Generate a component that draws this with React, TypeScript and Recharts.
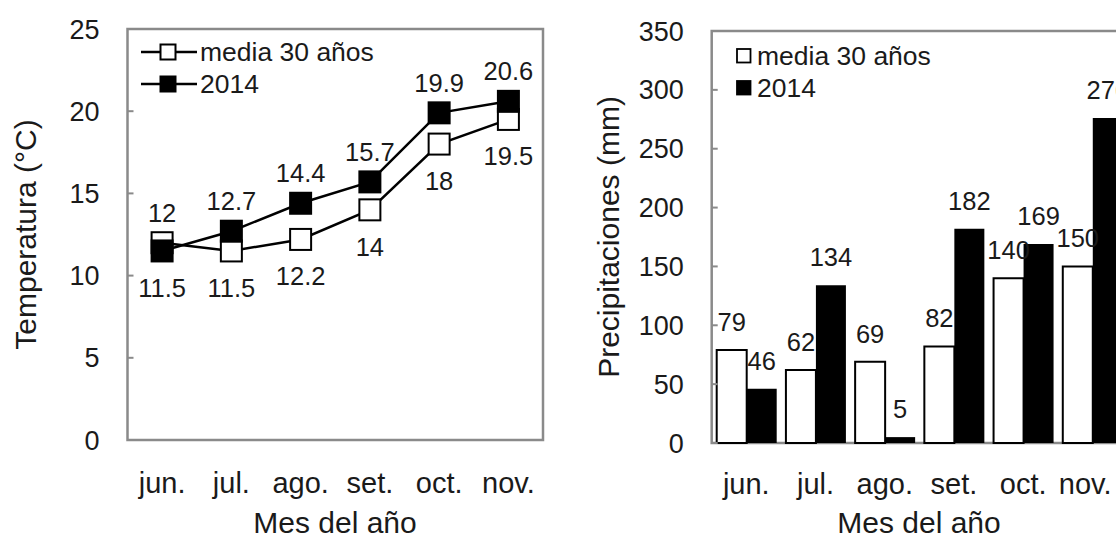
import React from 'react';
import {
  LineChart,
  BarChart,
  Line,
  Bar,
  XAxis,
  YAxis,
  ReferenceArea,
  LabelList,
  Legend,
} from 'recharts';

// ---- data -------------------------------------------------------------
const months = ['jun.', 'jul.', 'ago.', 'set.', 'oct.', 'nov.'];
const seriesNames = ['media 30 años', '2014'];

const tempMedia30 = [12, 11.5, 12.2, 14, 18, 19.5];
const temp2014 = [11.5, 12.7, 14.4, 15.7, 19.9, 20.6];
const tempTicks = [0, 5, 10, 15, 20, 25];

const precipMedia30 = [79, 62, 69, 82, 140, 150];
const precip2014 = [46, 134, 5, 182, 169, 276];
const precipTicks = [0, 50, 100, 150, 200, 250, 300, 350];

// which side of its marker each temperature value is printed on
const mediaLabelSide = ['above', 'below', 'below', 'below', 'below', 'below'];
const y2014LabelSide = ['below', 'above', 'above', 'above', 'above', 'above'];

// ---- styling ----------------------------------------------------------
const FONT = '"Liberation Sans", Arial, Helvetica, sans-serif';
const TEXT = '#1a1a1a';
const FRAME = '#8a8a8a';
const TICK_FONT = 27;
const CAT_FONT = 29;
const VALUE_FONT = 25.5;
const LEGEND_FONT = 26.5;
const TITLE_FONT = 30;

const PAGE_WIDTH = 1116;
const RIGHT_PANEL_LEFT = 580;

const tempData = months.map((m, i) => ({
  month: m,
  slot: i + 0.5,
  media: tempMedia30[i],
  y2014: temp2014[i],
}));

const precipData = months.map((m, i) => ({
  month: m,
  slot: i + 0.5,
  media: precipMedia30[i],
  y2014: precip2014[i],
}));

const frameTicks = [1, 2, 3, 4, 5];

const readBox = (p: any) => {
  const vb = p.viewBox ?? {};
  return {
    x: Number(vb.x ?? p.x),
    y: Number(vb.y ?? p.y),
    w: Number(vb.width ?? p.width ?? 0),
  };
};

// square marker used on both temperature lines
const squareDot = (tone: string) => (p: any) => {
  const { cx, cy, index } = p;
  if (cx == null || cy == null) return <g key={`d-${index}`} />;
  return (
    <rect
      key={`d-${index}`}
      x={cx - 10.5}
      y={cy - 10.5}
      width={21}
      height={21}
      fill={tone}
      stroke="#000"
      strokeWidth={2}
    />
  );
};

const tempValueLabel = (sides: string[]) => (p: any) => {
  const { x, y } = readBox(p);
  const side = sides[p.index] ?? 'above';
  const cy = side === 'above' ? y - 30 : y + 37;
  return (
    <text
      x={x}
      y={cy}
      textAnchor="middle"
      dominantBaseline="central"
      fontSize={VALUE_FONT}
      fontFamily={FONT}
      fill={TEXT}
    >
      {p.value}
    </text>
  );
};

const barValueLabel = (p: any) => {
  const { x, y, w } = readBox(p);
  return (
    <text
      x={x + w / 2}
      y={y - 28}
      textAnchor="middle"
      dominantBaseline="central"
      fontSize={VALUE_FONT}
      fontFamily={FONT}
      fill={TEXT}
    >
      {p.value}
    </text>
  );
};

// month label that is pulled left when it would run past the visible edge
const monthTick = (rightLimit: number) => (p: any) => {
  const text = String(p.payload?.value ?? '');
  const half = text.length * 0.24 * CAT_FONT;
  const x = Math.min(Number(p.x), rightLimit - half);
  return (
    <text
      x={x}
      y={p.y}
      dy="0.71em"
      textAnchor="middle"
      fontSize={CAT_FONT}
      fontFamily={FONT}
      fill={TEXT}
    >
      {text}
    </text>
  );
};

const verticalTitle = (text: string, cx: number, cy: number) => () => (
  <text
    x={cx}
    y={cy}
    transform={`rotate(-90 ${cx} ${cy})`}
    textAnchor="middle"
    dominantBaseline="central"
    fontSize={TITLE_FONT}
    fontFamily={FONT}
    fill={TEXT}
  >
    {text}
  </text>
);

const horizontalTitle = (text: string, cx: number, baseline: number) => () => (
  <text
    x={cx}
    y={baseline}
    textAnchor="middle"
    fontSize={TITLE_FONT}
    fontFamily={FONT}
    fill={TEXT}
  >
    {text}
  </text>
);

const legendRow: React.CSSProperties = {
  display: 'flex',
  alignItems: 'center',
  height: 32,
  whiteSpace: 'nowrap',
};
const legendText: React.CSSProperties = {
  fontFamily: FONT,
  fontSize: LEGEND_FONT,
  color: TEXT,
  lineHeight: '32px',
};

const LineLegend = () => (
  <div>
    {seriesNames.map((name, i) => (
      <div key={name} style={legendRow}>
        <svg width={56} height={32} style={{ display: 'block' }}>
          <line x1={0} x2={56} y1={16} y2={16} stroke="#000" strokeWidth={2.5} />
          <rect
            x={19.5}
            y={8.5}
            width={15}
            height={15}
            fill={i === 0 ? '#fff' : '#000'}
            stroke="#000"
            strokeWidth={2}
          />
        </svg>
        <span style={{ ...legendText, marginLeft: 3 }}>{name}</span>
      </div>
    ))}
  </div>
);

const BarLegend = () => (
  <div>
    {seriesNames.map((name, i) => (
      <div key={name} style={legendRow}>
        <svg width={16} height={32} style={{ display: 'block' }}>
          <rect
            x={1}
            y={9}
            width={13.5}
            height={13.5}
            fill={i === 0 ? '#fff' : '#000'}
            stroke="#000"
            strokeWidth={1.8}
          />
        </svg>
        <span style={{ ...legendText, marginLeft: 5 }}>{name}</span>
      </div>
    ))}
  </div>
);

const tickStyle = { fontSize: TICK_FONT, fontFamily: FONT, fill: TEXT };
const catStyle = { fontSize: CAT_FONT, fontFamily: FONT, fill: TEXT };

function TemperatureChart() {
  return (
    <LineChart
      width={560}
      height={538}
      data={tempData}
      margin={{ top: 29, right: 17, bottom: 37, left: 67.5 }}
    >
      {/* numeric helper axis: month boundaries for the small bottom ticks and the frame */}
      <XAxis
        xAxisId="frame"
        dataKey="slot"
        type="number"
        domain={[0, 6]}
        ticks={frameTicks}
        tick={false}
        axisLine={false}
        tickSize={-6}
        tickLine={{ stroke: FRAME, strokeWidth: 2 }}
        height={1}
        allowDataOverflow
      />
      <XAxis
        dataKey="month"
        type="category"
        padding={{ left: 34.6, right: 34.6 }}
        axisLine={false}
        tickLine={false}
        tickSize={0}
        tickMargin={32}
        tick={catStyle}
        height={60}
        interval={0}
        label={horizontalTitle('Mes del año', 335, 533)}
      />
      <YAxis
        type="number"
        domain={[0, 25]}
        ticks={tempTicks}
        width={60}
        axisLine={false}
        tickSize={-6}
        tickMargin={34}
        tickLine={{ stroke: FRAME, strokeWidth: 2 }}
        tick={tickStyle}
        interval={0}
        label={verticalTitle('Temperatura (°C)', 25, 234.5)}
      />
      <ReferenceArea
        xAxisId="frame"
        x1={0}
        x2={6}
        y1={0}
        y2={25}
        fill="none"
        fillOpacity={0}
        stroke={FRAME}
        strokeWidth={2.5}
        ifOverflow="visible"
      />
      <Legend
        layout="vertical"
        align="center"
        verticalAlign="middle"
        wrapperStyle={{ left: 141, top: 35.5, width: 300, height: 64 }}
        content={() => <LineLegend />}
      />
      <Line
        dataKey="media"
        name={seriesNames[0]}
        stroke="#000"
        strokeWidth={2.5}
        dot={squareDot('#fff')}
        activeDot={false}
        isAnimationActive={false}
      >
        <LabelList dataKey="media" content={tempValueLabel(mediaLabelSide)} />
      </Line>
      <Line
        dataKey="y2014"
        name={seriesNames[1]}
        stroke="#000"
        strokeWidth={2.5}
        dot={squareDot('#000')}
        activeDot={false}
        isAnimationActive={false}
      >
        <LabelList dataKey="y2014" content={tempValueLabel(y2014LabelSide)} />
      </Line>
    </LineChart>
  );
}

function PrecipitationChart() {
  return (
    <BarChart
      width={560}
      height={538}
      data={precipData}
      margin={{ top: 31, right: 13, bottom: 35, left: 71.7 }}
      barCategoryGap={5}
      barGap={0}
    >
      <XAxis
        xAxisId="frame"
        dataKey="slot"
        type="number"
        domain={[0, 6]}
        hide
        allowDataOverflow
      />
      <XAxis
        dataKey="month"
        type="category"
        axisLine={false}
        tickLine={false}
        tickSize={0}
        tickMargin={30}
        tick={monthTick(PAGE_WIDTH - RIGHT_PANEL_LEFT - 3)}
        height={60}
        interval={0}
        label={horizontalTitle('Mes del año', 339, 533)}
      />
      <YAxis
        type="number"
        domain={[0, 350]}
        ticks={precipTicks}
        width={60}
        axisLine={false}
        tickSize={-6}
        tickMargin={34}
        tickLine={{ stroke: FRAME, strokeWidth: 2 }}
        tick={tickStyle}
        interval={0}
        label={verticalTitle('Precipitaciones (mm)', 28, 237)}
      />
      <ReferenceArea
        xAxisId="frame"
        x1={0}
        x2={6}
        y1={0}
        y2={350}
        fill="none"
        fillOpacity={0}
        stroke={FRAME}
        strokeWidth={2.5}
        ifOverflow="visible"
      />
      <Legend
        layout="vertical"
        align="center"
        verticalAlign="middle"
        wrapperStyle={{ left: 156, top: 40, width: 300, height: 64 }}
        content={() => <BarLegend />}
      />
      <Bar
        dataKey="media"
        name={seriesNames[0]}
        fill="#fff"
        stroke="#000"
        strokeWidth={2}
        isAnimationActive={false}
      >
        <LabelList dataKey="media" content={barValueLabel} />
      </Bar>
      <Bar
        dataKey="y2014"
        name={seriesNames[1]}
        fill="#000"
        isAnimationActive={false}
      >
        <LabelList dataKey="y2014" content={barValueLabel} />
      </Bar>
    </BarChart>
  );
}

export default function App() {
  return (
    <div
      style={{
        position: 'absolute',
        left: 0,
        top: 0,
        width: PAGE_WIDTH,
        height: 538,
        overflow: 'hidden',
        background: '#fff',
      }}
    >
      <div style={{ position: 'absolute', left: 0, top: 0 }}>
        <TemperatureChart />
      </div>
      <div style={{ position: 'absolute', left: RIGHT_PANEL_LEFT, top: 0 }}>
        <PrecipitationChart />
      </div>
    </div>
  );
}
